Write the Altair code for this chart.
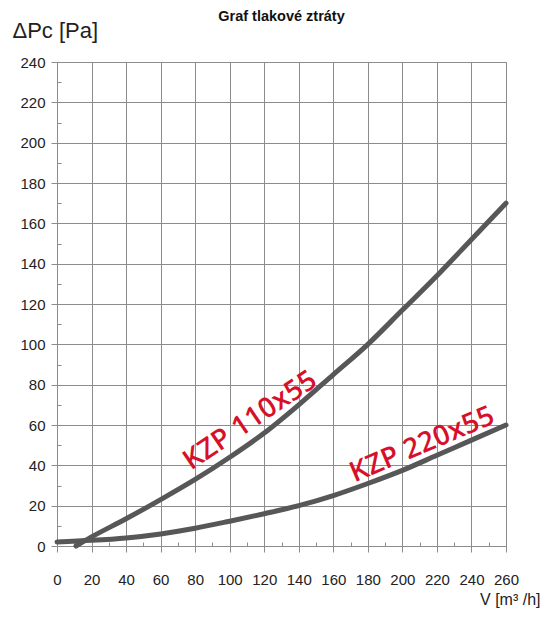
import altair as alt
import pandas as pd

# Flow V [m3/h] and pressure drop dPc [Pa]
flow_110 = [11, 20, 40, 60, 80, 100, 120, 140, 160, 180, 200, 220, 240, 260]
dp_110 = [0, 4.5, 13.5, 23, 33, 44, 56, 70, 85, 100, 117, 134, 152, 170]
flow_220 = [0, 20, 40, 60, 80, 100, 120, 140, 160, 180, 200, 220, 240, 260]
dp_220 = [2, 2.8, 4, 6, 8.8, 12.3, 16, 20, 25, 31, 37.5, 45, 52.5, 60]

label_text = ["KZP 110x55", "KZP 220x55"]
label_flow = [112, 211.5]
label_dp = [62, 50]
label_angle = [326, 337]

x_major = list(range(0, 261, 20))
x_minor = list(range(10, 260, 20))
y_major = list(range(0, 241, 20))
y_minor = list(range(10, 240, 20))

curves = pd.DataFrame({
    "series": ["KZP 110x55"] * len(flow_110) + ["KZP 220x55"] * len(flow_220),
    "flow": flow_110 + flow_220,
    "dp": dp_110 + dp_220,
})
labels_df = pd.DataFrame({
    "label": label_text,
    "flow": label_flow,
    "dp": label_dp,
    "angle": label_angle,
})

W, H = 449, 484
GRID = "#8c8c8c"
FONT = "Liberation Sans"
xs = alt.Scale(domain=[0, 260], nice=False, zero=False)
ys = alt.Scale(domain=[0, 240], nice=False)

lines = alt.Chart(curves).mark_line(
    color="#575757", strokeWidth=5, interpolate="monotone", strokeCap="round"
).encode(
    x=alt.X("flow:Q", scale=xs, axis=alt.Axis(
        values=x_major, grid=True, gridColor=GRID, gridOpacity=1, tickColor=GRID,
        tickSize=6, domainColor=GRID, labelFontSize=15, labelPadding=20,
        labelOverlap=False, labelFlush=False, labelColor="#222", labelFont=FONT,
        title="V [m³ /h]", titleX=483, titleY=58,
        titleAlign="right", titleBaseline="alphabetic", titleFontSize=16,
        titleFontWeight="normal", titleColor="#222", titleFont=FONT,
    )),
    y=alt.Y("dp:Q", scale=ys, axis=alt.Axis(
        values=y_major, grid=True, gridColor=GRID, gridOpacity=1, tickColor=GRID,
        tickSize=6, domainColor=GRID, labelFontSize=15, labelPadding=6,
        labelOverlap=False, labelFlush=False, labelColor="#222", labelFont=FONT,
        title="ΔPc [Pa]", titleAngle=0,
        titleX=-45, titleY=-25, titleAlign="left", titleBaseline="alphabetic",
        titleFontSize=22, titleFontWeight="normal", titleColor="#222", titleFont=FONT,
    )),
    detail="series:N",
)

labels = alt.Chart(labels_df).mark_text(
    font="Open Sans", fontSize=28, fontWeight=600, color="#d7102a",
    align="center", baseline="middle",
).encode(
    x=alt.X("flow:Q", scale=xs, axis=alt.Axis(
        orient="top", offset=-H, values=x_minor, labels=False, grid=False,
        domain=False, tickSize=4, tickColor=GRID, title="",
    )),
    y=alt.Y("dp:Q", scale=ys, axis=alt.Axis(
        orient="right", offset=-W, values=y_minor, labels=False, grid=False,
        domain=False, tickSize=4, tickColor=GRID, title="",
    )),
    text="label:N",
    angle=alt.Angle("angle:Q", scale=None),
)

chart = alt.layer(lines, labels).resolve_axis(
    x="independent", y="independent"
).properties(
    width=W, height=H,
    title=alt.TitleParams("Graf tlakové ztráty", fontSize=14.5, fontWeight="bold",
                          font=FONT, anchor="middle", offset=-5, color="#111"),
    autosize=alt.AutoSizeParams(type="none"),
    padding={"left": 49, "top": 54, "right": 36, "bottom": 63},
).configure_view(stroke=GRID)

chart.save("out.html", embed_options={"renderer": "svg", "actions": False})
